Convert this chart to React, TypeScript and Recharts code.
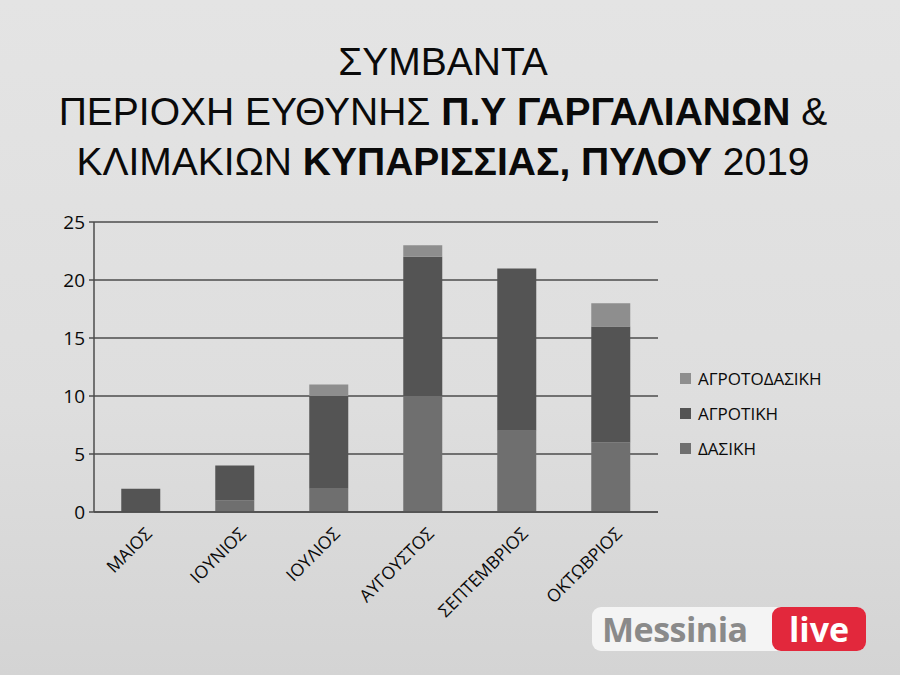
import { Bar, BarChart, CartesianGrid, Legend, XAxis, YAxis } from "recharts";

const MONTHS = ["ΜΑΙΟΣ", "ΙΟΥΝΙΟΣ", "ΙΟΥΛΙΟΣ", "ΑΥΓΟΥΣΤΟΣ", "ΣΕΠΤΕΜΒΡΙΟΣ", "ΟΚΤΩΒΡΙΟΣ"];
const DASIKI = [0, 1, 2, 10, 7, 6];
const AGROTIKI = [2, 3, 8, 12, 14, 10];
const AGROTODASIKI = [0, 0, 1, 1, 0, 2];
const Y_TICKS = [0, 5, 10, 15, 20, 25];
const EDGE_TICKS = [0, 1, 2, 3, 4, 5, 6];

// bottom to top in the stack
const SERIES = [
  { key: "dasiki", name: "ΔΑΣΙΚΗ", color: "#6f6f6f" },
  { key: "agrotiki", name: "ΑΓΡΟΤΙΚΗ", color: "#545454" },
  { key: "agrotodasiki", name: "ΑΓΡΟΤΟΔΑΣΙΚΗ", color: "#8e8e8e" },
];

const FONT = "'Open Sans', 'Noto Sans', sans-serif";
const TITLE_FONT = "'Liberation Sans', Arial, sans-serif";

const rows = MONTHS.map((month, i) => ({
  month,
  dasiki: DASIKI[i],
  agrotiki: AGROTIKI[i],
  agrotodasiki: AGROTODASIKI[i],
}));

function MonthTick({ x, y, payload }: any) {
  return (
    <g transform={`translate(${x + 12},${y + 15}) rotate(-45)`}>
      <text x={0} y={0} textAnchor="end" fill="#0a0a0a" fontSize={17.5} fontFamily={FONT}>
        {payload.value}
      </text>
    </g>
  );
}

function LegendBox() {
  return (
    <div style={{ fontFamily: FONT, fontSize: 17, color: "#0a0a0a" }}>
      {[...SERIES].reverse().map((s) => (
        <div key={s.key} style={{ display: "flex", alignItems: "center", height: 35 }}>
          <span style={{ width: 11, height: 11, background: s.color, marginRight: 7 }} />
          {s.name}
        </div>
      ))}
    </div>
  );
}

export default function App() {
  return (
    <div
      style={{
        position: "fixed",
        left: 0,
        top: 0,
        width: 900,
        height: 675,
        overflow: "hidden",
        background: "linear-gradient(180deg, #e4e4e4 0%, #dedede 60%, #d4d4d4 100%)",
        fontFamily: FONT,
      }}
    >
      <div
        style={{
          position: "absolute",
          left: 0,
          width: 886,
          top: 37,
          textAlign: "center",
          fontFamily: TITLE_FONT,
          fontSize: 39,
          lineHeight: "50px",
          color: "#0a0a0a",
          whiteSpace: "nowrap",
        }}
      >
        <div>ΣΥΜΒΑΝΤΑ</div>
        <div>
          ΠΕΡΙΟΧΗ ΕΥΘΥΝΗΣ <b>Π.Υ ΓΑΡΓΑΛΙΑΝΩΝ</b> &amp;
        </div>
        <div>
          ΚΛΙΜΑΚΙΩΝ <b>ΚΥΠΑΡΙΣΣΙΑΣ, ΠΥΛΟΥ</b> 2019
        </div>
      </div>

      <BarChart
        width={900}
        height={675}
        data={rows}
        barCategoryGap="29%"
        margin={{ top: 222, right: 242, bottom: 13, left: 54 }}
        style={{ position: "absolute", left: 0, top: 0 }}
      >
        <CartesianGrid vertical={false} stroke="#4d4d4d" strokeWidth={1.5} />
        <XAxis
          xAxisId="edges"
          type="number"
          domain={[0, 6]}
          ticks={EDGE_TICKS}
          height={0}
          axisLine={false}
          tickLine={{ stroke: "#4d4d4d", strokeWidth: 1.5 }}
          tickSize={7}
          tick={() => <g />}
        />
        <XAxis
          dataKey="month"
          height={150}
          axisLine={{ stroke: "#4d4d4d", strokeWidth: 1.5 }}
          tickLine={false}
          interval={0}
          tick={<MonthTick />}
        />
        <YAxis
          width={40}
          domain={[0, 25]}
          ticks={Y_TICKS}
          axisLine={{ stroke: "#4d4d4d", strokeWidth: 1.5 }}
          tickLine={{ stroke: "#4d4d4d", strokeWidth: 1.5 }}
          tickSize={5}
          tickMargin={4}
          tick={{ fontSize: 19, fill: "#0a0a0a", fontFamily: FONT }}
        />
        <Legend
          layout="vertical"
          align="center"
          verticalAlign="middle"
          wrapperStyle={{ left: 680, top: 361, width: 200 }}
          content={() => <LegendBox />}
        />
        {SERIES.map((s) => (
          <Bar
            key={s.key}
            dataKey={s.key}
            name={s.name}
            stackId="a"
            fill={s.color}
            isAnimationActive={false}
          />
        ))}
      </BarChart>

      <div
        style={{
          position: "absolute",
          left: 592,
          top: 607,
          width: 274,
          height: 44,
          borderRadius: 9,
          background: "rgba(246,246,246,0.92)",
          display: "flex",
          alignItems: "center",
          justifyContent: "space-between",
          boxSizing: "border-box",
          paddingLeft: 10,
        }}
      >
        <span style={{ fontSize: 34, fontWeight: 700, color: "#8a8a8a", letterSpacing: -0.5 }}>
          Messinia
        </span>
        <span
          style={{
            height: 44,
            width: 94,
            borderRadius: 9,
            background: "#e2283c",
            color: "#fff",
            fontSize: 34,
            fontWeight: 700,
            display: "flex",
            alignItems: "center",
            justifyContent: "center",
          }}
        >
          live
        </span>
      </div>
    </div>
  );
}
